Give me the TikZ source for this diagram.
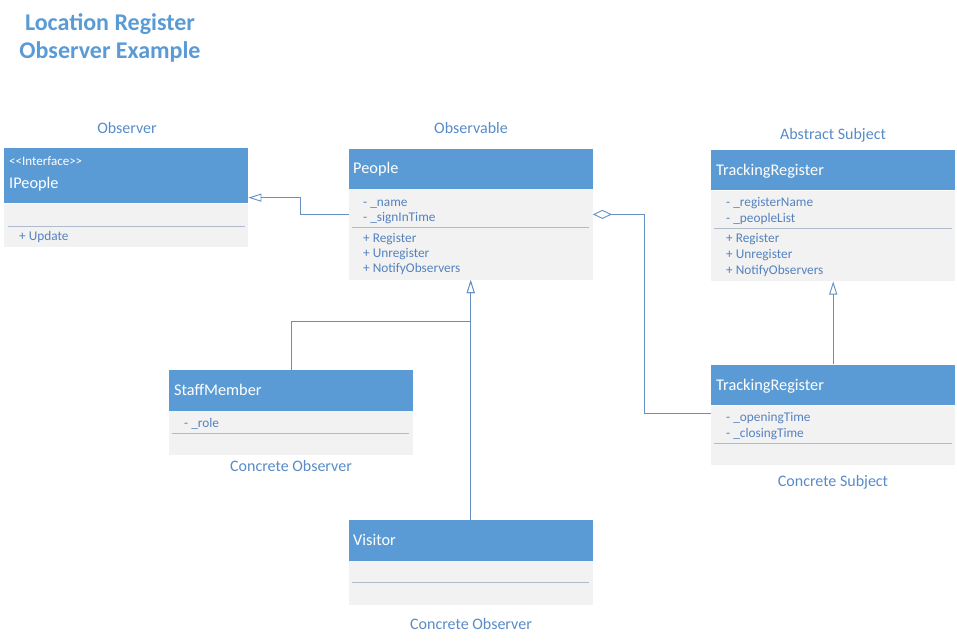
\documentclass[tikz,border=0pt]{standalone}
\usepackage{fontspec}
\setmainfont{Carlito}
\usetikzlibrary{arrows.meta}
\definecolor{hdblue}{RGB}{91,155,213}
\definecolor{bodygrey}{RGB}{242,242,242}
\definecolor{txtblue}{RGB}{84,130,192}
\definecolor{lblblue}{RGB}{88,140,200}
\definecolor{linec}{RGB}{100,144,198}
\definecolor{sepc}{RGB}{176,188,204}

\begin{document}
\begin{tikzpicture}[x=1pt, y=-1pt,
    classhead/.style={fill=hdblue, anchor=north west, inner sep=0},
    classbody/.style={fill=bodygrey, anchor=north west, inner sep=0},
    hdtext/.style={text=white, font=\fontsize{16.3}{19}\selectfont, anchor=base west, inner sep=0},
    stereo/.style={text=white, font=\fontsize{13}{15}\selectfont, anchor=base west, inner sep=0},
    attr/.style={text=txtblue, font=\fontsize{13.3}{15}\selectfont, anchor=base west, inner sep=0},
    lbl/.style={text=lblblue, font=\fontsize{16}{19}\selectfont, anchor=base, inner sep=0},
    sepline/.style={draw=sepc, line width=0.7pt},
    conn/.style={draw=linec, line width=0.9pt},
    gen/.style={-{Triangle[open, length=13pt, width=8pt, fill=white]}},
    agg/.style={{Diamond[open, length=19pt, width=9pt, fill=white]}-}]
    \fill[white] (0,0) rectangle (957,642);
    \useasboundingbox (0,0) rectangle (957,642);

    % Title
    \node[text=hdblue, font=\bfseries\fontsize{24}{28}\selectfont, anchor=base, inner sep=0] (title1) at (110,31) {Location Register};
    \node[text=hdblue, font=\bfseries\fontsize{24}{28}\selectfont, anchor=base, inner sep=0] (title2) at (110,59) {Observer Example};

    % Observer (interface)
    \node[lbl] (lobserver) at (127,133.5) {Observer};
    \node[classhead, minimum width=244pt, minimum height=55.5pt] (ipeople) at (4,147.7) {};
    \node[classbody, minimum width=244pt, minimum height=43.5pt] (ipeopleb) at (ipeople.south west) {};
    \node[stereo] (ipeoples) at (9,165) {\textless{}\textless{}Interface\textgreater{}\textgreater{}};
    \node[hdtext] (ipeoplen) at (9,188.5) {IPeople};
    \draw[sepline] (8,226) -- (245,226);
    \node[attr] (ipeople1) at (19,240.5) {+ Update};

    % Observable
    \node[lbl] (lobservable) at (471,133.5) {Observable};
    \node[classhead, minimum width=244pt, minimum height=40pt] (people) at (348.5,148.3) {};
    \node[classbody, minimum width=244pt, minimum height=91pt] (peopleb) at (people.south west) {};
    \node[hdtext] (peoplen) at (353,173.5) {People};
    \node[attr] (people1) at (363,206) {- \_name};
    \node[attr] (people2) at (363,221.5) {- \_signInTime};
    \draw[sepline] (352,227) -- (589,227);
    \node[attr] (people3) at (363,242) {+ Register};
    \node[attr] (people4) at (363,257.5) {+ Unregister};
    \node[attr] (people5) at (363,272) {+ NotifyObservers};

    % Abstract subject
    \node[lbl] (labstract) at (833,139.5) {Abstract Subject};
    \node[classhead, minimum width=244pt, minimum height=40.7pt] (treg) at (711,149.3) {};
    \node[classbody, minimum width=244pt, minimum height=90.7pt] (tregb) at (treg.south west) {};
    \node[hdtext] (tregn) at (716,175) {TrackingRegister};
    \node[attr] (treg1) at (726,206) {- \_registerName};
    \node[attr] (treg2) at (726,222.5) {- \_peopleList};
    \draw[sepline] (714,228) -- (952,228);
    \node[attr] (treg3) at (726,242.5) {+ Register};
    \node[attr] (treg4) at (726,258.5) {+ Unregister};
    \node[attr] (treg5) at (726,274.5) {+ NotifyObservers};

    % Concrete observer (staff)
    \node[classhead, minimum width=243.7pt, minimum height=40.7pt] (staff) at (169,370) {};
    \node[classbody, minimum width=243.7pt, minimum height=43.3pt] (staffb) at (staff.south west) {};
    \node[hdtext] (staffn) at (174,395.5) {StaffMember};
    \node[attr] (staff1) at (184,427.5) {- \_role};
    \draw[sepline] (172,433) -- (409,433);
    \node[lbl] (lstaff) at (291,471.5) {Concrete Observer};

    % Concrete subject
    \node[classhead, minimum width=244pt, minimum height=40.7pt] (creg) at (711,364.3) {};
    \node[classbody, minimum width=244pt, minimum height=59pt] (cregb) at (creg.south west) {};
    \node[hdtext] (cregn) at (716,390.5) {TrackingRegister};
    \node[attr] (creg1) at (726,421) {- \_openingTime};
    \node[attr] (creg2) at (726,437) {- \_closingTime};
    \draw[sepline] (714,443) -- (952,443);
    \node[lbl] (lcreg) at (833,486.5) {Concrete Subject};

    % Concrete observer (visitor)
    \node[classhead, minimum width=244pt, minimum height=40.7pt] (visitor) at (348.5,520) {};
    \node[classbody, minimum width=244pt, minimum height=43.3pt] (visitorb) at (visitor.south west) {};
    \node[hdtext] (visitorn) at (353,545.5) {Visitor};
    \draw[sepline] (352,582) -- (589,582);
    \node[lbl] (lvisitor) at (471,629.5) {Concrete Observer};

    % Connectors
    \draw[conn, gen] ([yshift=20pt]peopleb.west) -- ++(-48,0) |- ([yshift=-22pt]ipeople.east);
    \draw[conn, gen] (staff.north) -- ++(0,-48.5) -| (peopleb.south);
    \draw[conn, gen] (visitor.north) -- (peopleb.south);
    \draw[conn, agg] ([yshift=20pt]peopleb.east) -- ++(51.5,0) |- ([yshift=22pt]cregb.west);
    \draw[conn, gen] (creg.north) -- (tregb.south);
\end{tikzpicture}
\end{document}
